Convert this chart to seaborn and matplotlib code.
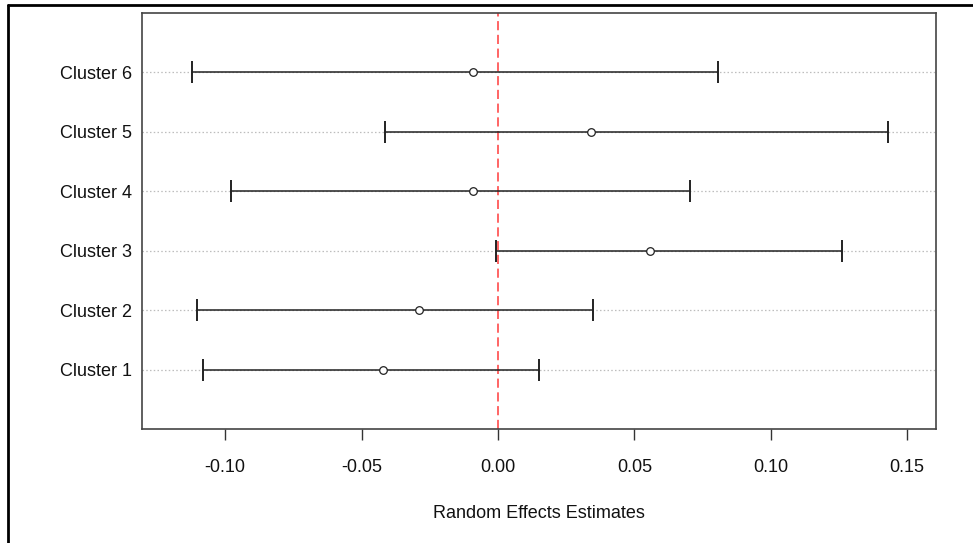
import numpy as np
import pandas as pd
import seaborn as sns
import matplotlib.pyplot as plt
from matplotlib.lines import Line2D

# values
clusters = ['Cluster 1', 'Cluster 2', 'Cluster 3', 'Cluster 4', 'Cluster 5', 'Cluster 6']
estimate = [-0.0422, -0.0290, 0.0557, -0.0092, 0.0341, -0.0092]
lower = [-0.1081, -0.1103, -0.0007, -0.0979, -0.0414, -0.1122]
upper = [0.0150, 0.0348, 0.1261, 0.0704, 0.1430, 0.0806]
xticks = [-0.10, -0.05, 0.00, 0.05, 0.10, 0.15]

df = pd.DataFrame({'cluster': clusters, 'est': estimate, 'lo': lower, 'hi': upper})
df['pos'] = np.arange(1, len(df) + 1)

sns.set_style('white')
plt.rcParams['font.family'] = ['Liberation Sans', 'DejaVu Sans']

fig = plt.figure(figsize=(9.73, 5.43), dpi=100)
ax = fig.add_axes([0.1459, 0.210, 0.962 - 0.1459, 0.976 - 0.210])

# dotted guide lines behind everything
for p in df['pos']:
    ax.axhline(p, color='#bdbdbd', lw=0.9, ls=(0, (1.2, 1.8)), zorder=0)

ax.axvline(0, color='#ff3b3b', lw=1.1, ls=(0, (6, 3)), zorder=1)

ax.errorbar(df['est'], df['pos'],
            xerr=[df['est'] - df['lo'], df['hi'] - df['est']],
            fmt='none', ecolor='#222222', elinewidth=1.1,
            capsize=7.8, capthick=1.4, zorder=2)

sns.scatterplot(data=df, x='est', y='pos', ax=ax, s=30, marker='o',
                facecolor='white', edgecolor='#222222', linewidth=0.9,
                zorder=3, legend=False)

ax.set_xlim(-0.1305, 0.1606)
ax.set_ylim(0, 7.0)
ax.set_xticks(xticks)
ax.set_xticklabels([f'{t:.2f}' for t in xticks])
ax.set_yticks(df['pos'])
ax.set_yticklabels(df['cluster'])
ax.tick_params(axis='x', length=8, width=1, color='#333333', pad=13.5,
               labelsize=13, labelcolor='#111111', direction='out', bottom=True)
ax.tick_params(axis='y', length=0, pad=7, labelsize=13, labelcolor='#111111')
ax.set_xlabel('Random Effects Estimates', fontsize=13, color='#111111', labelpad=21)
ax.set_ylabel('')

for s in ax.spines.values():
    s.set_color('#444444')
    s.set_linewidth(1.2)

# outer screenshot frame (top and left edges)
fig.add_artist(Line2D([8 / 973, 1], [1 - 5 / 543, 1 - 5 / 543],
                      transform=fig.transFigure, color='black', lw=2))
fig.add_artist(Line2D([8 / 973, 8 / 973], [0, 1 - 5 / 543],
                      transform=fig.transFigure, color='black', lw=2))

plt.savefig('out.png', dpi=100)
